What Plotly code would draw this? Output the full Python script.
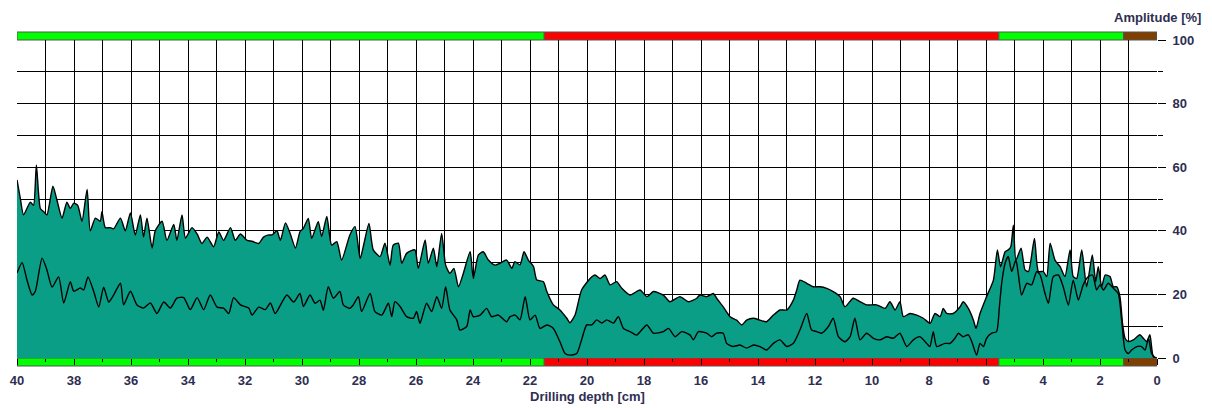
import plotly.graph_objects as go

# ---------------- data ----------------
upper_depth = [40.0, 39.88, 39.77, 39.53, 39.42, 39.32, 39.18, 39.06, 38.95, 38.74, 38.6, 38.42, 38.25, 38.13, 38.01,
               37.87, 37.72, 37.54, 37.43, 37.25, 37.08, 37.02, 36.9, 36.73, 36.61, 36.37, 36.2, 36.02, 35.85, 35.67,
               35.56, 35.44, 35.26, 35.15, 34.91, 34.74, 34.5, 34.39, 34.21, 34.09, 33.86, 33.68, 33.51, 33.33, 33.1,
               32.92, 32.75, 32.51, 32.34, 32.16, 31.93, 31.75, 31.52, 31.35, 31.17, 31.05, 30.88, 30.76, 30.58, 30.41,
               30.23, 30.07, 29.95, 29.78, 29.66, 29.43, 29.31, 29.13, 28.96, 28.78, 28.61, 28.32, 28.14, 27.96, 27.85,
               27.65, 27.5, 27.26, 27.09, 26.91, 26.8, 26.62, 26.5, 26.33, 26.04, 25.92, 25.68, 25.57, 25.39, 25.27,
               25.1, 24.96, 24.81, 24.67, 24.51, 24.34, 24.1, 23.99, 23.81, 23.64, 23.46, 23.23, 23.05, 22.82, 22.64,
               22.53, 22.35, 22.21, 22.06, 21.88, 21.76, 21.53, 21.41, 21.18, 20.95, 20.71, 20.6, 20.42, 20.19, 19.89,
               19.72, 19.54, 19.37, 19.19, 18.96, 18.78, 18.49, 18.14, 17.9, 17.67, 17.32, 17.09, 16.74, 16.44, 16.15,
               16.04, 15.8, 15.57, 15.45, 15.22, 14.98, 14.75, 14.57, 14.4, 14.16, 13.93, 13.7, 13.46, 13.23, 12.99,
               12.76, 12.64, 12.53, 12.29, 12.06, 11.82, 11.59, 11.36, 11.12, 10.95, 10.66, 10.42, 10.19, 9.84, 9.54,
               9.37, 9.19, 9.02, 8.9, 8.67, 8.43, 8.2, 7.96, 7.79, 7.61, 7.5, 7.38, 7.15, 6.91, 6.8, 6.62, 6.44, 6.35,
               6.21, 5.98, 5.74, 5.6, 5.49, 5.33, 5.22, 5.13, 5.04, 4.95, 4.77, 4.63, 4.51, 4.3, 4.16, 3.99, 3.87, 3.75,
               3.58, 3.4, 3.23, 3.05, 2.94, 2.82, 2.64, 2.47, 2.27, 2.15, 2.06, 1.94, 1.82, 1.65, 1.53, 1.41, 1.3, 1.21,
               1.12, 1.01, 0.83, 0.6, 0.48, 0.36, 0.25, 0.13, 0.01]
upper_amp = [56, 50, 45, 49, 48, 60.7, 47, 46, 45, 54, 49.7, 44, 49, 47, 48.7,
             48, 43, 53, 40, 44, 43, 46, 41, 41, 40.6, 44, 40, 45.6, 38.7, 45,
             38, 44, 34.6, 40, 43, 37, 42, 37, 45, 37.7, 41, 39, 36, 38, 35,
             39.6, 37, 41, 37, 39, 37, 36.7, 36, 38, 38.7, 38.7, 40, 37, 42.5, 39,
             34.6, 39.7, 40.8, 43.9, 37.6, 42.9, 38.2, 44.5, 35.5, 36.6, 30.8, 38.7, 41.3, 31.3, 35,
             42.3, 34, 31.9, 36.1, 29.2, 35.5, 36.1, 29.8, 32.9, 34, 28.2, 37.1, 29.8, 34.5, 28.7,
             39.2, 29.2, 26.6, 28.2, 22.4, 26.6, 33.4, 25, 32.4, 33.4, 30.8, 29.2, 29.8, 30.8, 28.2,
             30.3, 29.3, 33.4, 30.8, 28.8, 24.5, 24, 20.9, 16.7, 15.1, 12.5, 11.1, 13.5, 21.4, 25,
             26.1, 25, 26.1, 23, 24, 21.9, 19.8, 21.4, 19.3, 20.9, 19.8, 17.7, 19.3, 17.7, 18.8,
             19.8, 19.3, 20.3, 18.8, 16.1, 13.0, 11.9, 10.4, 11.9, 12.5, 11.9, 11.4, 13.5, 15.1, 15.1,
             18.2, 21.4, 24.5, 23.5, 22.4, 22.4, 21.9, 20.9, 19.3, 16.1, 18.8, 17.7, 16.7, 16.7, 15.6,
             17.7, 15.1, 17.7, 13.0, 14, 13.5, 12.5, 10.9, 14, 13.0, 15.6, 14, 14, 16.1, 17.7, 15.6, 11.9, 9.3,
             14, 19.3, 24.5, 34, 28.7, 33.4, 34, 35, 41.8, 30.8, 34.5, 27.7, 27.2, 37.6, 27.2, 27.2, 25.6, 36.1,
             30.8, 28.7, 25.6, 34, 25.6, 25, 34, 22.4, 32.4, 24, 28.7, 22.4, 26.1, 25.6, 22.4, 22.4, 19.3, 10.9,
             6.2, 5.2, 5.7, 7.3, 6.2, 5.2, 7.3, 0.4, 0.1]

lower_depth = [40.0, 39.82, 39.65, 39.47, 39.36, 39.12, 38.95, 38.77, 38.54, 38.36, 38.13, 38.01, 37.78, 37.66, 37.51,
               37.31, 37.13, 36.96, 36.78, 36.61, 36.37, 36.26, 36.02, 35.79, 35.56, 35.32, 35.09, 34.85, 34.62, 34.39,
               34.15, 33.92, 33.68, 33.45, 33.22, 32.98, 32.75, 32.57, 32.4, 32.16, 31.87, 31.75, 31.52, 31.29, 31.11,
               30.94, 30.7, 30.53, 30.29, 30.07, 29.95, 29.72, 29.54, 29.37, 29.25, 29.08, 28.9, 28.67, 28.55, 28.32,
               28.2, 28.02, 27.91, 27.61, 27.44, 27.2, 26.97, 26.85, 26.74, 26.56, 26.33, 26.09, 25.98, 25.86, 25.63,
               25.45, 25.27, 25.1, 24.96, 24.81, 24.57, 24.46, 24.22, 24.1, 23.99, 23.75, 23.52, 23.35, 23.11, 22.82,
               22.7, 22.52, 22.35, 22.17, 22.0, 21.82, 21.65, 21.41, 21.18, 20.95, 20.77, 20.6, 20.36, 20.19, 20.01,
               19.83, 19.66, 19.48, 19.31, 19.07, 18.9, 18.72, 18.49, 18.26, 17.9, 17.67, 17.32, 17.14, 16.91, 16.68,
               16.38, 16.27, 16.09, 15.8, 15.63, 15.45, 15.22, 15.1, 14.87, 14.63, 14.4, 14.16, 13.93, 13.7, 13.46,
               13.23, 12.99, 12.76, 12.53, 12.29, 12.12, 11.94, 11.77, 11.53, 11.36, 11.18, 10.95, 10.77, 10.6, 10.42,
               10.19, 9.95, 9.72, 9.49, 9.25, 9.02, 8.78, 8.55, 8.32, 8.08, 7.97, 7.85, 7.73, 7.44, 7.26, 7.09, 6.97,
               6.8, 6.62, 6.5, 6.33, 6.21, 6.09, 5.98, 5.8, 5.63, 5.53, 5.45, 5.33, 5.22, 5.1, 4.95, 4.87, 4.75, 4.57,
               4.4, 4.22, 4.1, 3.93, 3.81, 3.64, 3.46, 3.29, 3.11, 2.94, 2.76, 2.59, 2.41, 2.26, 2.12, 2.0, 1.88, 1.71,
               1.53, 1.36, 1.24, 1.12, 1.01, 0.89, 0.71, 0.54, 0.42, 0.3, 0.19, 0.07]
lower_amp = [26.7, 30, 24.5, 19.8, 20.9, 31.4, 27.7, 22.3, 25.5, 17.3, 24, 21, 22, 21.4, 25.5,
             21, 16, 22.3, 17.6, 19.8, 23.5, 16.7, 21, 16.7, 15.7, 17.3, 14, 17.6, 15.7, 18.8,
             19, 15.2, 19, 15.2, 19.8, 16, 15.7, 14, 19, 16.7, 15.7, 13.5, 16, 15.2, 17.3,
             14, 17.6, 19.8, 17.6, 20.3, 16.2, 19.8, 17.2, 18.2, 15, 22.4, 18.8, 20.9, 16.7, 15.6,
             16.7, 19.3, 14.6, 20.3, 14.6, 13.5, 17.2, 13.0, 17.7, 16.2, 13.0, 12.5, 14.6, 10.9, 17.2,
             14.6, 19.3, 15.6, 22.4, 15.1, 12.0, 8.8, 9.9, 15.1, 13.0, 13.5, 15.6, 13.0, 13.5, 11.4,
             13, 13.5, 12, 19.3, 12, 13.5, 9.3, 10.4, 9.3, 5.1, 1.4, 0.9, 1.4, 5.7, 10.4,
             10.4, 12, 11, 12, 11, 13, 9.3, 8.3, 7.2, 10.4, 7.8, 8.3, 9.3, 6.7, 8.3,
             7.2, 5.7, 8.3, 7.8, 6.7, 7.8, 7.8, 4.6, 3.6, 4.1, 3.1, 4.1, 3.6, 2.5, 4.6,
             5.7, 3.6, 4.6, 8.8, 14.0, 8.8, 8.3, 7.8, 9.9, 12.5, 6.7, 5.1, 6.7, 12.5, 5.7,
             7.8, 6.2, 5.7, 6.7, 6.2, 7.8, 3.6, 5.7, 6.7, 4.6, 3.6, 8.3, 3.6, 4.6, 4.6, 6.2, 7.8,
             6.7, 7.3, 5.2, 0.9, 4.6, 3.6, 6.2, 7.8, 8.3, 16.1, 23.5, 29.8, 31.9, 27.2, 30.8, 26.6, 19.8, 23.5,
             23, 27.2, 26.1, 20.3, 17.2, 25.6, 26.1, 22.4, 16.6, 24.5, 18.2, 23, 25.6, 26.1, 21.4, 23, 21.4, 23.5,
             21.9, 20.3, 11.9, 2.5, 1.4, 2.5, 3.6, 3.6, 2.5, 6.2, 1.4, 0.1]

# zone bars (top and bottom)
zone_start = [40, 21.5, 5.55, 1.17]
zone_end = [21.5, 5.55, 1.17, 0]
zone_color = ["#00ff00", "#ff0000", "#00ff00", "#7f3f00"]

x_ticks = list(range(0, 41, 2))
y_ticks = [0, 20, 40, 60, 80, 100]

# ---------------- styling ----------------
FILL = "#0a9e86"
TXT = "#2e2e52"
FONT = "Liberation Sans, Arial, sans-serif"
PLOT_H = 318.0
BAR_H = 8.0 / PLOT_H

fig = go.Figure()
fig.add_trace(go.Scatter(x=upper_depth, y=upper_amp, mode="lines", fill="tozeroy",
                         fillcolor=FILL, line=dict(color="black", width=1.4, shape="spline", smoothing=0.6),
                         hoverinfo="skip"))
fig.add_trace(go.Scatter(x=lower_depth, y=lower_amp, mode="lines",
                         line=dict(color="black", width=1.4, shape="spline", smoothing=0.6),
                         hoverinfo="skip"))

shapes = []
for s, e, c in zip(zone_start, zone_end, zone_color):
    shapes.append(dict(type="rect", xref="x", yref="paper", x0=s, x1=e, y0=1.0, y1=1.0 + BAR_H,
                       fillcolor=c, line=dict(color="#555555", width=1), layer="below"))
    shapes.append(dict(type="rect", xref="x", yref="paper", x0=s, x1=e, y0=-BAR_H, y1=0.0,
                       fillcolor=c, line=dict(color="#555555", width=1), layer="below"))

fig.update_layout(
    width=1212, height=408,
    margin=dict(l=17, r=55, t=40, b=50, autoexpand=False),
    paper_bgcolor="white", plot_bgcolor="white",
    showlegend=False,
    shapes=shapes,
    font=dict(family=FONT, size=13, color=TXT),
    annotations=[
        dict(text="<b>Amplitude [%]</b>", xref="paper", yref="paper", x=1.0404, y=1.072,
             xanchor="right", yanchor="middle", showarrow=False,
             font=dict(family=FONT, size=13, color=TXT)),
        dict(text="<b>Drilling depth [cm]</b>", xref="paper", yref="paper", x=0.5, y=-0.1226,
             xanchor="center", yanchor="middle", showarrow=False,
             font=dict(family=FONT, size=13, color=TXT)),
    ],
)

fig.update_xaxes(
    range=[40, 0], tickvals=x_ticks, ticktext=[str(v) for v in x_ticks],
    ticks="outside", ticklen=6, tickcolor="black", tickwidth=1,
    showgrid=True, gridcolor="black", gridwidth=1,
    minor=dict(dtick=1, tick0=0, ticks="outside", ticklen=3, tickcolor="black",
               showgrid=True, gridcolor="black", gridwidth=1),
    zeroline=False, showline=False, ticklabelstandoff=4,
    tickfont=dict(family=FONT, size=13, color=TXT, weight="bold"),
)
fig.update_yaxes(
    range=[0, 100], side="right", tickvals=y_ticks, ticktext=[str(v) for v in y_ticks],
    ticks="outside", ticklen=8, tickcolor="black", tickwidth=1,
    showgrid=True, gridcolor="black", gridwidth=1,
    minor=dict(dtick=10, tick0=0, ticks="outside", ticklen=5, tickcolor="black",
               showgrid=True, gridcolor="black", gridwidth=1),
    zeroline=False, showline=False, ticklabelstandoff=4,
    tickfont=dict(family=FONT, size=13, color=TXT, weight="bold"),
)

fig.write_html("out.html", config={"displayModeBar": False, "staticPlot": True},
               post_script="document.body.style.margin='0';document.body.style.overflow='hidden';")
